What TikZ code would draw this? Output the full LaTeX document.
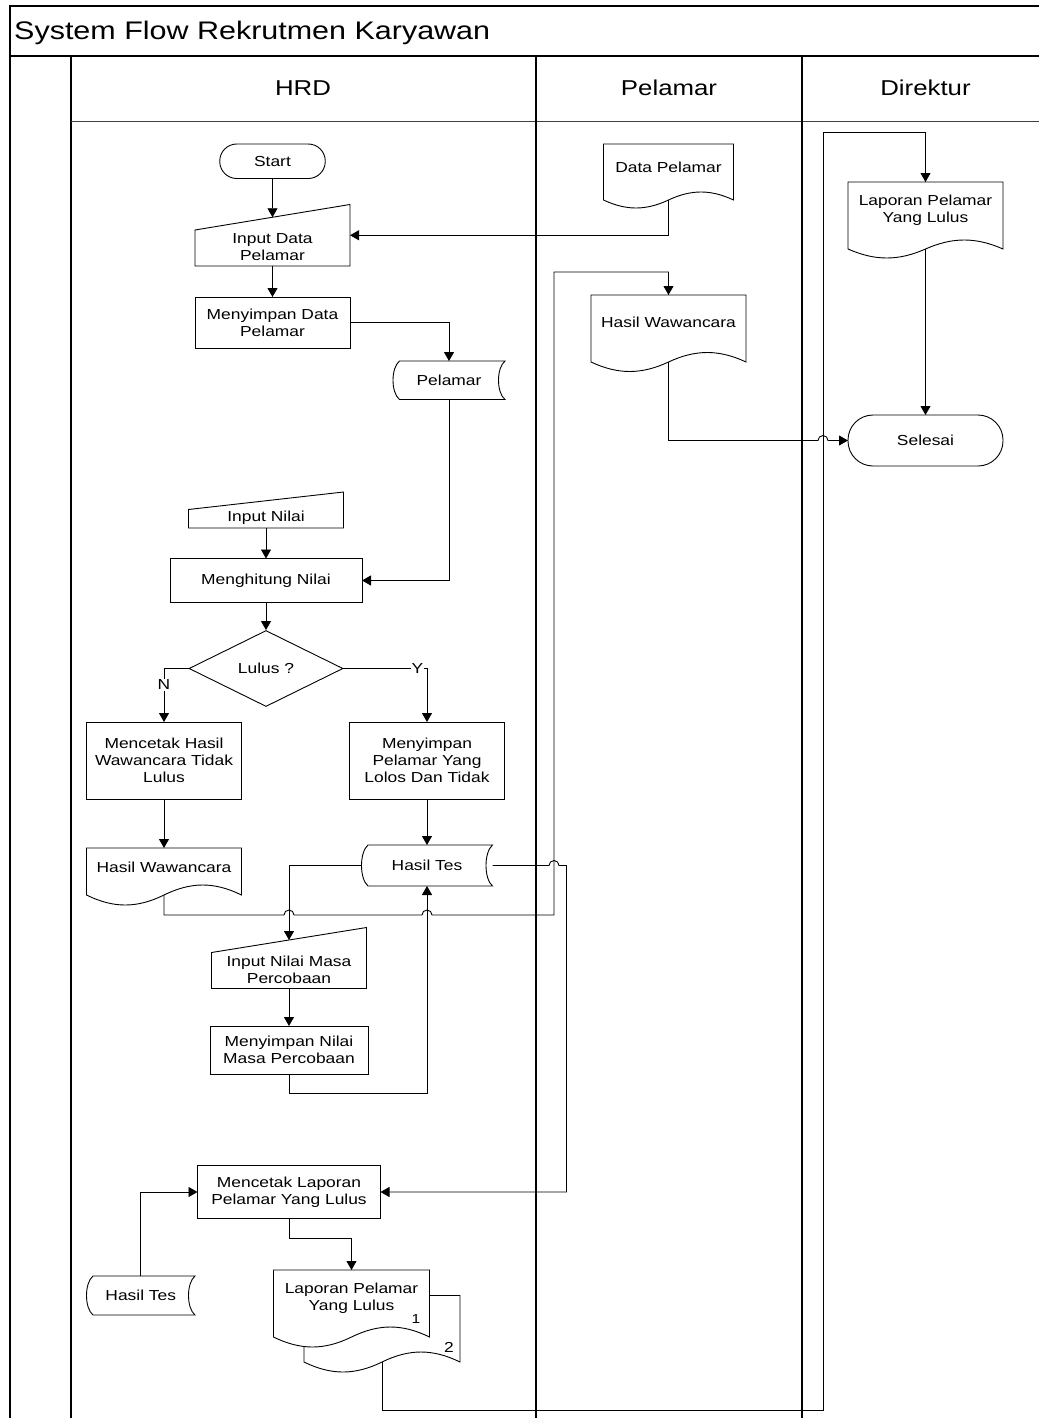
\documentclass[tikz,border=0pt]{standalone}
\usepackage{fontspec}
\setmainfont{Liberation Sans}[FakeStretch=1.2]
\usetikzlibrary{arrows.meta,shapes.geometric,calc}

\newcommand\docnode[9]{%
 \pgfmathsetmacro\dW{#4-#2}%
 \pgfmathsetmacro\dA{4/3*#6}%
 \pgfmathsetmacro\dC{(#2+#4)/2}%
 \pgfmathsetmacro\dM{(#3+#5)/2}%
 \pgfmathsetmacro\dH{#5-#3}%
 \draw[shp] (#2,#5) -- (#2,#3) -- (#4,#3) -- (#4,#5)
   .. controls ({#4-0.175*\dW},{#5-\dA}) and ({#4-0.325*\dW},{#5-\dA}) .. (\dC,#5)
   .. controls ({#2+0.325*\dW},{#5+\dA}) and ({#2+0.175*\dW},{#5+\dA}) .. (#2,#5) -- cycle;
 \node[area, minimum width=\dW, minimum height=\dH] (#1) at (\dC,\dM) {};
 \node[txt] (#1-t) at (#7,#8) {#9};
}
\newcommand\inputnode[9]{%
 \pgfmathsetmacro\dW{#4-#2}%
 \pgfmathsetmacro\dC{(#2+#4)/2}%
 \pgfmathsetmacro\dM{(#3+#5)/2}%
 \pgfmathsetmacro\dH{#5-#3}%
 \draw[shp] (#2,{#3+#6}) -- (#4,#3) -- (#4,#5) -- (#2,#5) -- cycle;
 \node[area, minimum width=\dW, minimum height=\dH] (#1) at (\dC,\dM) {};
 \node[txt] (#1-t) at (#7,#8) {#9};
}
\newcommand\storenode[7]{%
 \pgfmathsetmacro\dW{#4-#2}%
 \pgfmathsetmacro\dC{(#2+#4)/2}%
 \pgfmathsetmacro\dM{(#3+#5)/2}%
 \pgfmathsetmacro\dH{#5-#3}%
 \pgfmathsetmacro\dK{0.18*(#5-#3)}%
 \draw[shp] ({#2+#6},#3) -- (#4,#3)
   .. controls ({#4-#6-#6/3},{#3+\dK}) and ({#4-#6-#6/3},{#5-\dK}) .. (#4,#5)
   -- ({#2+#6},#5)
   .. controls ({#2-#6/3},{#5-\dK}) and ({#2-#6/3},{#3+\dK}) .. ({#2+#6},#3) -- cycle;
 \node[area, minimum width=\dW, minimum height=\dH] (#1) at (\dC,\dM) {};
 \node[txt] (#1-t) at (\dC,\dM) {#7};
}

\begin{document}
\begin{tikzpicture}[x=1pt,y=-1pt,
 shp/.style={draw=black, line width=0.9pt, fill=white},
 area/.style={draw=none, rectangle, inner sep=0pt, outer sep=0pt},
 txt/.style={font=\fontsize{14.5}{17}\selectfont, align=center, inner sep=0pt, text=black},
 proc/.style={shp, rectangle, inner sep=0pt, outer sep=0pt, font=\fontsize{14.5}{17}\selectfont, align=center},
 term/.style={proc},
 lane/.style={font=\fontsize{21.5}{25}\selectfont, inner sep=0pt},
 lbl/.style={font=\fontsize{14.5}{17}\selectfont, fill=white, inner sep=1pt},
 small/.style={font=\fontsize{13}{15}\selectfont, inner sep=0pt},
 con/.style={line width=0.9pt, draw=black},
 arr/.style={con, -{Triangle[length=9pt,width=10pt]}},
 frame/.style={line width=1.2pt, draw=black},
]
\useasboundingbox (0,0) rectangle (1039,1418);
\fill[white] (0,0) rectangle (1039,1418);

% ---------- frame ----------
\draw[frame] (1039,6) -- (10,6) -- (10,1418);
\draw[line width=2pt] (10,56) -- (1039,56);
\draw[frame] (71,56) -- (71,1418);
\draw[line width=0.8pt, draw=black!75] (71,121) -- (1039,121);
\draw[frame] (536,56) -- (536,1418);
\draw[frame] (802,56) -- (802,1418);
\node[anchor=base west, inner sep=0pt, font=\fontsize{25.4}{30}\selectfont] (title) at (14,39.5) {System Flow Rekrutmen Karyawan};
\node[lane, anchor=base] (lhrd) at (303,95.7) {HRD};
\node[lane, anchor=base] (lpel) at (669,95.7) {Pelamar};
\node[lane, anchor=base] (ldir) at (925.5,95.7) {Direktur};

% ---------- HRD ----------
\node[term, rounded corners=17pt, minimum width=105.5, minimum height=34.5] (start) at (272.5,161.25) {Start};
\inputnode{inDP}{195}{204.5}{350}{266}{25.5}{272.5}{247.5}{Input Data\\Pelamar}
\node[proc, minimum width=155, minimum height=51.5] (menyDP) at (272.5,322.75) {Menyimpan Data\\Pelamar};
\storenode{pelS}{393}{361}{505}{399.5}{6.5}{Pelamar}
\inputnode{inNilai}{188.5}{492}{343.5}{528}{17.5}{266}{518}{Input Nilai}
\node[proc, minimum width=192, minimum height=44] (hitung) at (266,580.5) {Menghitung Nilai};
\node[shp, diamond, minimum width=154, minimum height=76, inner sep=0pt, aspect=2, font=\fontsize{14.5}{17}\selectfont] (lulus) at (266,668.5) {Lulus ?};
\node[proc, minimum width=155, minimum height=77] (mencH) at (164,760.5) {Mencetak Hasil\\Wawancara Tidak\\Lulus};
\node[proc, minimum width=155, minimum height=77] (menyP) at (427,760.5) {Menyimpan\\Pelamar Yang\\Lolos Dan Tidak};
\docnode{hwH}{86.5}{848}{241.5}{895}{10}{164}{867}{Hasil Wawancara}
\storenode{hTes}{361.5}{845}{492.5}{886}{6.5}{Hasil Tes}
\inputnode{inMasa}{211.5}{927.5}{366.5}{988.5}{25}{289}{970}{Input Nilai Masa\\Percobaan}
\node[proc, minimum width=158, minimum height=48] (menyN) at (289,1050) {Menyimpan Nilai\\Masa Percobaan};
\node[proc, minimum width=183, minimum height=53] (mencL) at (289,1192) {Mencetak Laporan\\Pelamar Yang Lulus};
\storenode{hTes2}{86.5}{1276}{195}{1315}{6.5}{Hasil Tes}
\docnode{lapB}{304}{1295.5}{460}{1362}{10}{449}{1347}{2}
\docnode{lapF}{273.5}{1270}{429.5}{1337}{10}{351.5}{1298}{Laporan Pelamar\\Yang Lulus}
\node[small] (lapF-n) at (416,1319) {1};

% ---------- Pelamar ----------
\docnode{dataP}{603.5}{144}{733.5}{200}{8}{668.5}{167}{Data Pelamar}
\docnode{hwP}{591}{295}{746}{362}{9.5}{668.5}{322.5}{Hasil Wawancara}

% ---------- Direktur ----------
\docnode{lapD}{848}{182}{1003}{249}{9}{925.5}{210}{Laporan Pelamar\\Yang Lulus}
\node[term, rounded corners=25pt, minimum width=155, minimum height=51] (selesai) at (925.5,440.5) {Selesai};

% ---------- connectors ----------
\draw[arr] (start.south) -- ([yshift=-12.75pt]inDP.north);
\draw[arr] (dataP.south) |- (inDP.east);
\draw[arr] (inDP.south) -- (menyDP.north);
\draw[arr] (menyDP.east) -| (pelS.north);
\draw[arr] (pelS.south) |- (hitung.east);
\draw[arr] (inNilai.south) -- (hitung.north);
\draw[arr] (hitung.south) -- (lulus.north);
\draw[arr] (lulus.west) -| node[lbl, pos=0.65] (nlab) {N} (mencH.north);
\draw[arr] (lulus.east) -| node[lbl, pos=0.443] (ylab) {Y} (menyP.north);
\draw[arr] (mencH.south) -- (hwH.north);
\draw[arr] (menyP.south) -- (hTes.north);
\draw[arr] (hwH.south) -- (164,915) -- (284,915) arc[start angle=180, end angle=0, radius=5pt]
   -- (422,915) arc[start angle=180, end angle=0, radius=5pt]
   -- (554,915) -- (554,272) -| (hwP.north);
\draw[arr] (hTes.west) -| ([yshift=-12.5pt]inMasa.north);
\draw[arr] (hTes.east) -- (549,865.5) arc[start angle=180, end angle=0, radius=5pt]
   -- (566.5,865.5) |- (mencL.east);
\draw[arr] (inMasa.south) -- (menyN.north);
\draw[arr] (menyN.south) -- (289,1093) -| (hTes.south);
\draw[arr] (hTes2.north) |- (mencL.west);
\draw[arr] (mencL.south) -- (289,1238.5) -| (lapF.north);
\draw[arr] (lapB.south) -- (382,1410.5) -| (823,132) -| (lapD.north);
\draw[arr] (lapD.south) -- (selesai.north);
\draw[arr] (hwP.south) -- (668.5,440.5) -- (818,440.5) arc[start angle=180, end angle=0, radius=5pt] -- (selesai.west);
\end{tikzpicture}
\end{document}
